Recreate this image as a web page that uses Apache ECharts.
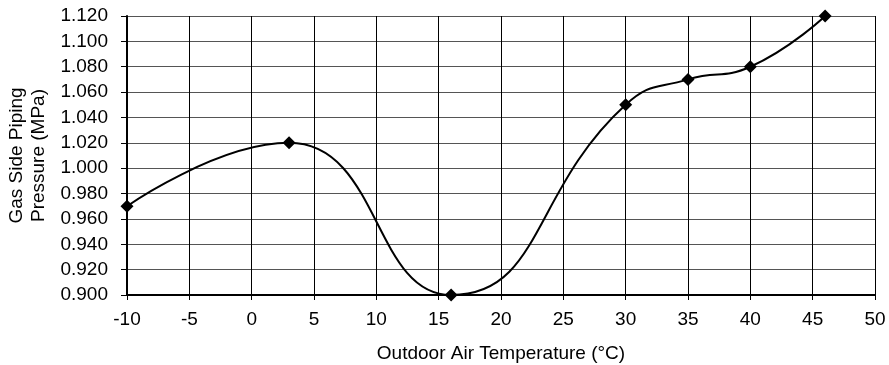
<!DOCTYPE html>
<html>
<head>
<meta charset="utf-8">
<script src="https://cdn.jsdelivr.net/npm/echarts@6/dist/echarts.min.js"></script>
<style>html,body{margin:0;padding:0;background:#fff}#c{width:889px;height:365px}</style>
</head>
<body>
<div id="c"></div>
<script>
const temps = [-10, 3, 16, 30, 35, 40, 46];
const pressures = [0.970, 1.020, 0.900, 1.050, 1.070, 1.080, 1.120];
const xTitle = 'Outdoor Air Temperature (°C)';
const yTitle = 'Gas Side Piping\nPressure (MPa)';

const chart = echarts.init(document.getElementById('c'));
const font = 'Liberation Sans, Arial, sans-serif';
chart.setOption({
  animation: false,
  grid: {left: 127, right: 14, top: 16, bottom: 70, outerBoundsMode: 'none', containLabel: false},
  xAxis: {
    type: 'value', min: -10, max: 50, interval: 5,
    name: xTitle, nameLocation: 'middle', nameGap: 49,
    nameTextStyle: {fontFamily: font, fontSize: 19, color: '#000'},
    axisLine: {show: true, onZero: false, lineStyle: {color: '#000', width: 2}},
    axisTick: {show: true, length: 5, lineStyle: {color: '#000'}},
    axisLabel: {fontFamily: font, fontSize: 19, color: '#000', margin: 15},
    splitLine: {show: true, lineStyle: {color: '#000', width: 1}}
  },
  yAxis: {
    type: 'value', min: 0.9, max: 1.12, interval: 0.02,
    name: yTitle, nameLocation: 'middle', nameGap: 73, nameRotate: 90,
    nameTextStyle: {fontFamily: font, fontSize: 19, color: '#000', lineHeight: 22},
    axisLine: {show: true, onZero: false, lineStyle: {color: '#000', width: 2}},
    axisTick: {show: true, length: 6, lineStyle: {color: '#000'}},
    axisLabel: {fontFamily: font, fontSize: 19, color: '#000', margin: 19,
      formatter: v => v.toFixed(3)},
    splitLine: {show: true, lineStyle: {color: '#555', width: 1}}
  },
  series: [{
    type: 'line',
    data: temps.map((t, i) => [t, pressures[i]]),
    smooth: 0.5,
    symbol: 'diamond', symbolSize: 13,
    itemStyle: {color: '#000'},
    lineStyle: {color: '#000', width: 2}
  }]
});
</script>
</body>
</html>
